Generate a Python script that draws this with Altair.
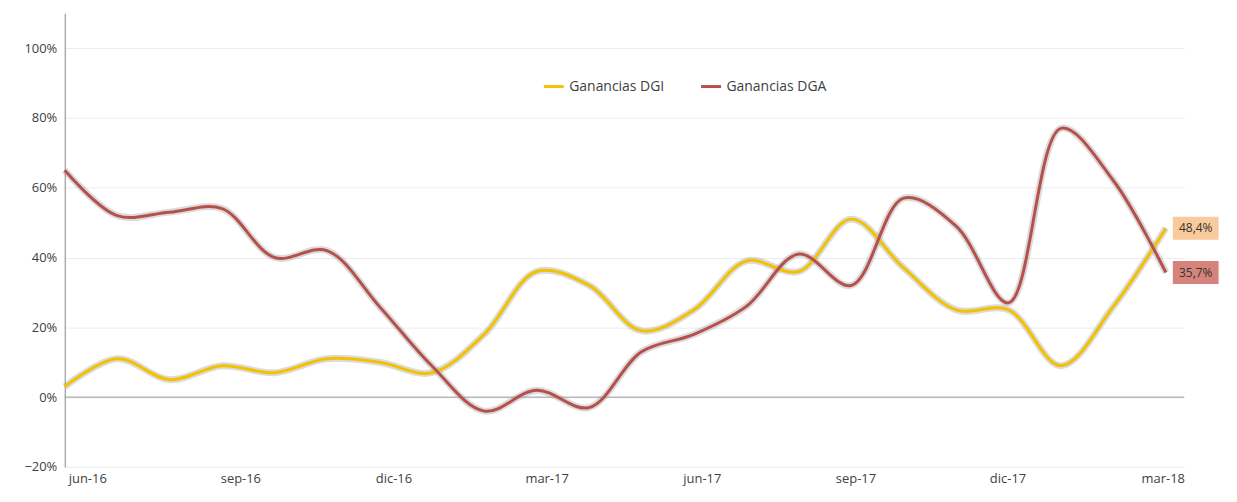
import altair as alt
import pandas as pd

months = ["jun-16", "jul-16", "ago-16", "sep-16", "oct-16", "nov-16", "dic-16", "ene-17",
          "feb-17", "mar-17", "abr-17", "may-17", "jun-17", "jul-17", "ago-17", "sep-17",
          "oct-17", "nov-17", "dic-17", "ene-18", "feb-18", "mar-18"]
dgi = [0.03, 0.11, 0.05, 0.09, 0.07, 0.11, 0.10, 0.07, 0.18, 0.36, 0.32, 0.19,
       0.25, 0.39, 0.36, 0.51, 0.37, 0.25, 0.25, 0.09, 0.26, 0.484]
dga = [0.65, 0.52, 0.53, 0.54, 0.40, 0.42, 0.26, 0.09, -0.04, 0.02, -0.03, 0.13,
       0.18, 0.26, 0.41, 0.32, 0.57, 0.49, 0.27, 0.77, 0.62, 0.357]
tick_labels = ["jun-16", "sep-16", "dic-16", "mar-17", "jun-17", "sep-17", "dic-17", "mar-18"]
tick_pos = [0.43, 3.35, 6.27, 9.19, 12.15, 15.08, 17.98, 20.94]

rows = []
for i, m in enumerate(months):
    rows.append({"i": i, "mes": m, "serie": "Ganancias DGI", "v": dgi[i]})
    rows.append({"i": i, "mes": m, "serie": "Ganancias DGA", "v": dga[i]})
df = pd.DataFrame(rows)

colors = {"Ganancias DGI": "#f2c100", "Ganancias DGA": "#b5504a"}
label_df = pd.DataFrame({
    "i": [21, 21], "v": [dgi[-1], dga[-1]],
    "txt": ["48,4%", "35,7%"], "bg": ["#f9cb9c", "#d6837c"]})

label_expr = " : ".join(
    f"abs(datum.value - {p}) < 0.01 ? '{t}'" for p, t in zip(tick_pos, tick_labels)) + " : ''"

x = alt.X("i:Q", scale=alt.Scale(domain=[0, 21.35], nice=False, zero=False),
          axis=alt.Axis(values=tick_pos, labelExpr=label_expr, title=None, grid=False,
                        domain=False, ticks=False, labelFontSize=13, labelColor="#404040",
                        labelPadding=6))
y = alt.Y("v:Q", scale=alt.Scale(domain=[-0.2, 1.1], nice=False),
          axis=alt.Axis(values=[-0.2, 0, 0.2, 0.4, 0.6, 0.8, 1.0], format=".0%", title=None,
                        gridColor="#ececec", domainColor="#888888", ticks=False,
                        labelFontSize=13, labelColor="#404040", labelPadding=8))

base = alt.Chart(df)
shadow = base.mark_line(interpolate="catmull-rom", strokeWidth=7, color="#999999",
                        opacity=0.35).encode(x=x, y=y, detail="serie:N")
lines = base.mark_line(interpolate="catmull-rom", strokeWidth=3).encode(
    x=x, y=y,
    color=alt.Color("serie:N", sort=list(colors.keys()),
                    scale=alt.Scale(domain=list(colors.keys()), range=list(colors.values())),
                    legend=alt.Legend(title=None, orient="none", direction="horizontal",
                                      legendX=480, legendY=62, symbolType="stroke",
                                      symbolStrokeWidth=3, symbolSize=400, labelFontSize=14,
                                      labelColor="#404040", columnPadding=30)))
zero = alt.Chart(pd.DataFrame({"v": [0]})).mark_rule(color="#999999").encode(y=y)

boxes = alt.Chart(label_df).mark_rect(width=46, height=23, xOffset=30).encode(
    x="i:Q", y="v:Q", color=alt.Color("bg:N", scale=None))
texts = alt.Chart(label_df).mark_text(dx=30, fontSize=12, color="#333333").encode(
    x="i:Q", y="v:Q", text="txt:N")

chart = alt.layer(zero, shadow, lines, boxes, texts).properties(
    width=1125, height=456, autosize=alt.AutoSizeParams(type="none"),
    padding={"left": 57, "top": 4, "right": 45, "bottom": 30}
).configure(font="Open Sans").configure_view(strokeWidth=0)

chart.save("out.html", embed_options={"renderer": "svg", "actions": False})
